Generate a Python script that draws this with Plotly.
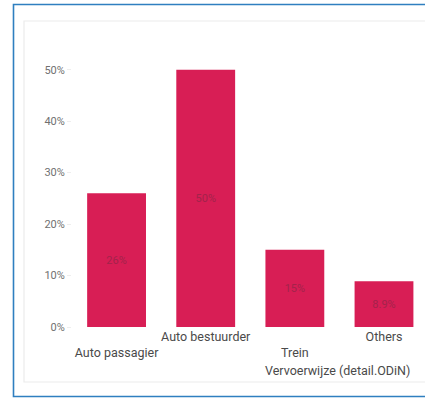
import plotly.graph_objects as go

# Travel mode share (Vervoerwijze, detail ODiN)
categories = ["Auto passagier", "Auto bestuurder", "Trein", "Others"]
shares = [26, 50, 15, 8.9]
tick_values = [0, 10, 20, 30, 40, 50]
tick_labels = ["0%", "10%", "20%", "30%", "40%", "50%"]
axis_title = "Vervoerwijze (detail.ODiN)"

W, H = 425, 398
M_L, M_R, M_T, M_B = 72, 0, 44, 71
PW, PH = W - M_L - M_R, H - M_T - M_B


def px_x(px):
    return (px - M_L) / PW


def px_y(py):
    return (H - M_B - py) / PH


def fmt(v):
    return f"{v:.0f}%" if float(v).is_integer() else f"{v:.1f}%"


# alternate category labels between two rows
tick_text = [("<br>" + c) if i % 2 == 0 else c for i, c in enumerate(categories)]

fig = go.Figure(
    go.Bar(
        x=list(range(len(categories))),
        y=shares,
        marker=dict(color="#d81e55", line=dict(width=0)),
        text=[fmt(v) for v in shares],
        textposition="inside",
        insidetextanchor="middle",
        textfont=dict(color="#a3234b", size=11, family="Roboto"),
        width=0.66,
    )
)

fig.update_layout(
    width=W,
    height=H,
    margin=dict(l=M_L, r=M_R, t=M_T, b=M_B),
    paper_bgcolor="white",
    plot_bgcolor="white",
    font=dict(family="Roboto", color="#555555"),
    showlegend=False,
    xaxis=dict(
        range=[-0.5, 3.46],
        tickvals=list(range(len(categories))),
        ticktext=tick_text,
        tickangle=0,
        tickfont=dict(size=12.5, color="#4a4a4a"),
        showgrid=False,
        zeroline=False,
        showline=False,
        ticks="",
    ),
    yaxis=dict(
        range=[0, 55],
        tickvals=tick_values,
        ticktext=tick_labels,
        tickfont=dict(size=11, color="#707070"),
        showgrid=False,
        zeroline=False,
        showline=False,
        ticks="outside",
        ticklen=4,
        tickcolor="#eeeeee",
    ),
    shapes=[
        # outer frame
        dict(type="rect", xref="paper", yref="paper",
             x0=px_x(13.5), x1=px_x(440), y0=px_y(396.5), y1=px_y(4.5),
             line=dict(color="#2f7fc0", width=1.6), fillcolor="rgba(0,0,0,0)",
             layer="below"),
        # inner card
        dict(type="rect", xref="paper", yref="paper",
             x0=px_x(24), x1=px_x(440), y0=px_y(382), y1=px_y(21),
             line=dict(color="#ececec", width=1.2), fillcolor="rgba(0,0,0,0)",
             layer="below"),
    ],
    annotations=[
        dict(text=axis_title, xref="paper", yref="paper",
             x=px_x(337), y=px_y(370), xanchor="center", yanchor="middle",
             showarrow=False, font=dict(size=12.5, color="#4a4a4a")),
    ],
)

fig.write_html("out.html")
